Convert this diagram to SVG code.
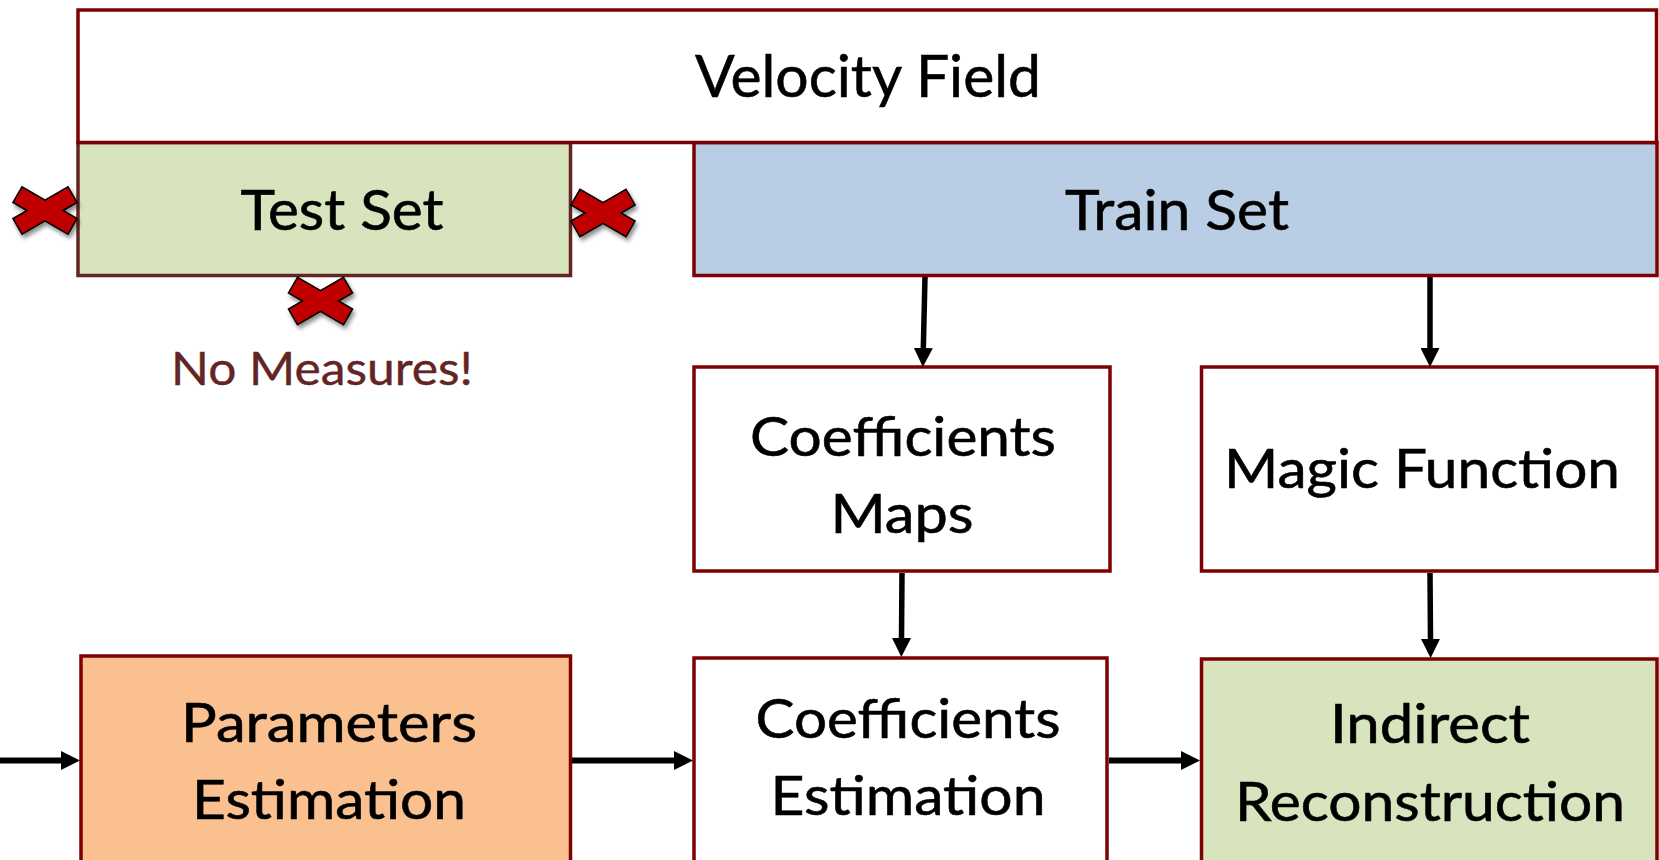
<svg xmlns="http://www.w3.org/2000/svg" width="1659" height="860" viewBox="0 0 1659 860">
  <style>
    .box { stroke: #7f0000; stroke-width: 3.5; }
    .lbl { font-family: Lato, "Open Sans", "Liberation Sans", sans-serif; fill: #000; stroke: #000; stroke-width: 0.6; text-anchor: middle; }
    .note { font-family: Lato, "Open Sans", "Liberation Sans", sans-serif; fill: #632523; stroke: #632523; stroke-width: 0.4; text-anchor: middle; }
    .flow-h { stroke: #000; stroke-width: 6; fill: none; }
    .flow-v { stroke: #000; stroke-width: 5.5; fill: none; }
    .cross { fill: #c00000; stroke: #000; stroke-width: 1.6; stroke-linejoin: miter; }
  </style>
  <defs>
    <marker id="head" viewBox="0 0 19 19" refX="1" refY="9.5" markerWidth="19" markerHeight="19" markerUnits="userSpaceOnUse" orient="auto">
      <path d="M0,0 L19,9.5 L0,19 Z" fill="#000"/>
    </marker>
    <filter id="shadow" x="-30%" y="-30%" width="170%" height="180%">
      <feDropShadow dx="2" dy="3.5" stdDeviation="2.2" flood-color="#000" flood-opacity="0.45"/>
    </filter>
    <!-- multiply sign with uniform arms, centred on the origin -->
    <polygon id="xmark" points="0,-10.4 23,-23.7 32,-8.1 18,0 32,8.1 23,23.7 0,10.4 -23,23.7 -32,8.1 -18,0 -32,-8.1 -23,-23.7"/>
  </defs>

  <rect width="1659" height="860" fill="#fff"/>

  <g id="test-set">
    <rect x="78" y="142.5" width="492.5" height="133" fill="#d7e4bd" stroke="#632523" stroke-width="3.5"/>
    <text class="lbl" x="342" y="230" font-size="56" textLength="203" lengthAdjust="spacingAndGlyphs">Test Set</text>
  </g>

  <g id="train-set">
    <rect class="box" x="694" y="142.5" width="963" height="133" fill="#b9cde5"/>
    <text class="lbl" x="1177" y="230" font-size="56" textLength="224" lengthAdjust="spacingAndGlyphs">Train Set</text>
  </g>

  <g id="velocity-field">
    <rect class="box" x="78" y="10" width="1578.5" height="132.5" fill="#fff"/>
    <text class="lbl" x="868" y="97" font-size="59" textLength="346" lengthAdjust="spacingAndGlyphs">Velocity Field</text>
  </g>

  <g id="no-measures">
    <use href="#xmark" class="cross" filter="url(#shadow)" transform="translate(45,210.5)"/>
    <use href="#xmark" class="cross" filter="url(#shadow)" transform="translate(603,213)"/>
    <use href="#xmark" class="cross" filter="url(#shadow)" transform="translate(320.5,301)"/>
    <text class="note" x="322" y="385" font-size="46" textLength="302" lengthAdjust="spacingAndGlyphs">No Measures!</text>
  </g>

  <g id="coefficients-maps">
    <rect class="box" x="694" y="367" width="416" height="204" fill="#fff"/>
    <text class="lbl" x="903" y="456" font-size="54" textLength="306" lengthAdjust="spacingAndGlyphs">Coefficients</text>
    <text class="lbl" x="902" y="533" font-size="54" textLength="143" lengthAdjust="spacingAndGlyphs">Maps</text>
  </g>

  <g id="magic-function">
    <rect class="box" x="1201.5" y="367" width="455.5" height="204" fill="#fff"/>
    <text class="lbl" x="1422" y="488" font-size="54" textLength="396" lengthAdjust="spacingAndGlyphs">Magic Function</text>
  </g>

  <g id="parameters-estimation">
    <rect class="box" x="81" y="656" width="489.5" height="220" fill="#fac090"/>
    <text class="lbl" x="329" y="742" font-size="54" textLength="296" lengthAdjust="spacingAndGlyphs">Parameters</text>
    <text class="lbl" x="329" y="819" font-size="54" textLength="274" lengthAdjust="spacingAndGlyphs">Estimation</text>
  </g>

  <g id="coefficients-estimation">
    <rect class="box" x="694" y="658" width="413" height="220" fill="#fff"/>
    <text class="lbl" x="908" y="738" font-size="54" textLength="305" lengthAdjust="spacingAndGlyphs">Coefficients</text>
    <text class="lbl" x="908" y="815" font-size="54" textLength="275" lengthAdjust="spacingAndGlyphs">Estimation</text>
  </g>

  <g id="indirect-reconstruction">
    <rect class="box" x="1201.5" y="659" width="455.5" height="220" fill="#d7e4bd"/>
    <text class="lbl" x="1430" y="743" font-size="54" textLength="200" lengthAdjust="spacingAndGlyphs">Indirect</text>
    <text class="lbl" x="1430" y="821" font-size="54" textLength="390" lengthAdjust="spacingAndGlyphs">Reconstruction</text>
  </g>

  <g id="connectors">
    <line class="flow-v" x1="925" y1="277" x2="923.3" y2="349" marker-end="url(#head)"/>
    <line class="flow-v" x1="1430" y1="277" x2="1430" y2="349" marker-end="url(#head)"/>
    <line class="flow-v" x1="902" y1="573" x2="901.5" y2="639" marker-end="url(#head)"/>
    <line class="flow-v" x1="1430" y1="573" x2="1430.5" y2="640" marker-end="url(#head)"/>
    <line class="flow-h" x1="0" y1="760.5" x2="62" y2="760.5" marker-end="url(#head)"/>
    <line class="flow-h" x1="572" y1="760.5" x2="675" y2="760.5" marker-end="url(#head)"/>
    <line class="flow-h" x1="1109" y1="760.5" x2="1182" y2="760.5" marker-end="url(#head)"/>
  </g>
</svg>
